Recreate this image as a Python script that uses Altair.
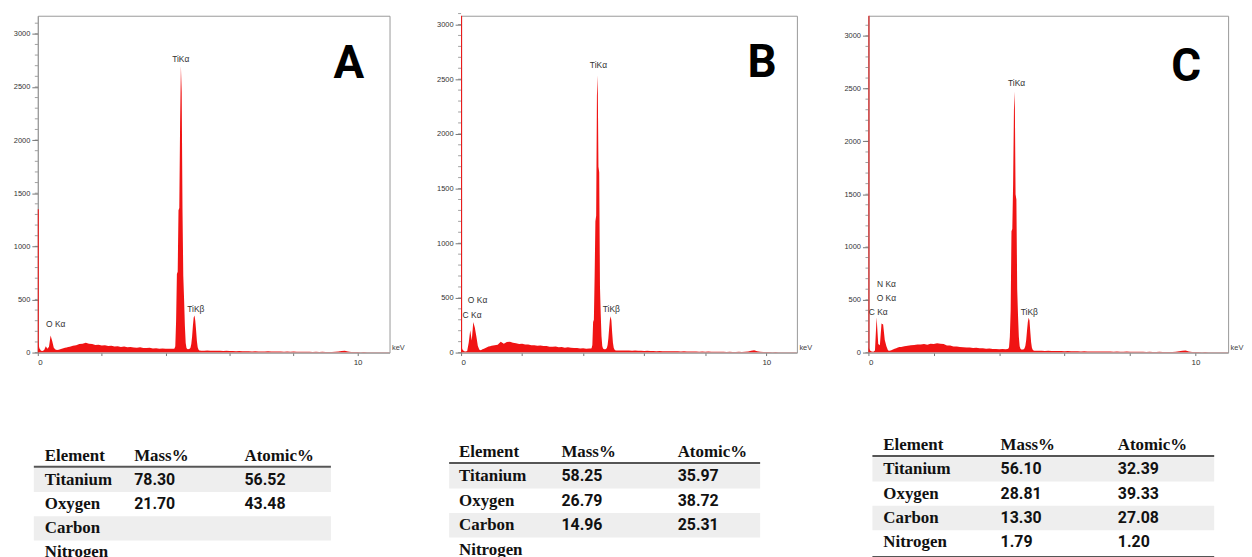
import altair as alt
import pandas as pd

# ---------------- data ----------------
# energy bins (keV): finer around the low-energy and Ti peaks
E1 = [round(0.05 * i, 3) for i in range(20)]            # 0.00 - 0.95
E2 = [round(1.0 + 0.1 * i, 3) for i in range(33)]       # 1.0 - 4.2
E3 = [round(4.25 + 0.025 * i, 3) for i in range(35)]    # 4.25 - 5.10
E4 = [round(5.2 + 0.1 * i, 3) for i in range(59)]       # 5.2 - 11.0
ENERGY = E1 + E2 + E3 + E4

# ---- sample A counts ----
A_LOW = [110, 40, 18, 15, 25, 60, 35, 55, 160, 110,
         45, 28, 24, 27, 32, 36, 40, 45, 48, 52]
A_MID = [55, 64, 70, 80, 84, 92, 82, 80, 72, 74,
         66, 68, 62, 63, 57, 59, 53, 56, 49, 53,
         48, 46, 50, 43, 42, 46, 39, 41, 37, 38,
         35, 37, 36]
A_TI = [36, 38, 60, 300, 740, 760, 1340, 1360, 2150, 2700,
        2450, 1350, 720, 500, 250, 90, 42, 34, 32, 33,
        36, 45, 80, 150, 250, 330, 350, 300, 210, 110,
        50, 28, 20, 19, 18]
A_HIGH = [18, 19, 17, 18, 16, 17, 15, 16, 14, 15,
          13, 14, 12, 13, 12, 11, 12, 10, 11, 10,
          12, 9, 10, 9, 10, 8, 9, 8, 9, 7,
          8, 7, 8, 7, 6, 7, 6, 7, 6, 5,
          6, 7, 9, 14, 16, 10, 6, 5, 5, 4,
          5, 4, 4, 3, 4, 3, 3, 3, 3]

# ---- sample B counts ----
B_LOW = [60, 25, 12, 10, 15, 90, 205, 110, 280, 230,
         150, 60, 25, 22, 30, 36, 42, 48, 55, 58]
B_MID = [62, 68, 72, 100, 80, 96, 98, 90, 86, 78,
         80, 74, 73, 68, 67, 62, 64, 60, 59, 54,
         53, 55, 49, 50, 45, 48, 43, 42, 41, 38,
         39, 36, 38]
B_TI = [38, 40, 70, 280, 300, 700, 1200, 1250, 2350, 2535,
        1700, 1650, 600, 350, 150, 60, 38, 32, 30, 31,
        34, 42, 70, 130, 220, 300, 332, 290, 180, 90,
        45, 28, 22, 20, 19]
B_HIGH = [19, 20, 18, 19, 17, 18, 16, 17, 15, 16,
          15, 14, 13, 14, 12, 13, 12, 11, 12, 11,
          10, 11, 10, 9, 10, 9, 8, 9, 8, 9,
          8, 7, 8, 7, 7, 6, 7, 6, 6, 7,
          6, 7, 9, 16, 21, 12, 7, 6, 5, 5,
          4, 5, 4, 4, 3, 4, 3, 3, 3]

# ---- sample C counts ----
C_LOW = [50, 20, 10, 8, 20, 335, 80, 70, 275, 265,
         120, 60, 20, 18, 22, 28, 35, 42, 48, 52]
C_MID = [52, 60, 64, 70, 71, 77, 76, 82, 74, 83,
         82, 88, 84, 81, 68, 66, 57, 58, 52, 51,
         47, 49, 44, 45, 41, 42, 37, 38, 33, 34,
         31, 34, 32]
C_TI = [33, 35, 50, 150, 400, 1150, 1170, 1600, 2300, 2473,
        1500, 1450, 600, 350, 150, 60, 36, 30, 28, 29,
        32, 40, 65, 120, 210, 290, 329, 305, 200, 100,
        45, 26, 20, 18, 17]
C_HIGH = [17, 18, 16, 17, 15, 16, 14, 15, 13, 14,
          13, 12, 13, 11, 12, 11, 10, 11, 10, 9,
          10, 9, 10, 8, 9, 8, 8, 9, 7, 8,
          7, 8, 7, 6, 7, 6, 6, 7, 6, 5,
          6, 6, 8, 12, 18, 20, 10, 6, 5, 5,
          4, 5, 4, 4, 3, 4, 3, 3, 3]

COUNTS = {
    "A": A_LOW + A_MID + A_TI + A_HIGH,
    "B": B_LOW + B_MID + B_TI + B_HIGH,
    "C": C_LOW + C_MID + C_TI + C_HIGH,
}
# zero-energy (noise) peak height
ZERO_PEAK = {"A": 1350, "B": 3400, "C": 3400}

# peak annotations: text, energy (keV), counts
PEAK_TEXT = {
    "A": ["TiKα", "TiKβ", "O Kα"],
    "B": ["TiKα", "TiKβ", "O Kα", "C Kα"],
    "C": ["TiKα", "TiKβ", "N Kα", "O Kα", "C Kα"],
}
PEAK_E = {
    "A": [4.47, 4.94, 0.56],
    "B": [4.50, 4.92, 0.54, 0.36],
    "C": [4.53, 4.92, 0.55, 0.55, 0.30],
}
PEAK_C = {
    "A": [2730, 380, 245],
    "B": [2600, 375, 450, 320],
    "C": [2520, 355, 620, 490, 360],
}
# panel letter position (energy, counts)
LETTER_E = {"A": 9.73, "B": 9.86, "C": 9.72}
LETTER_C = {"A": 2711, "B": 2650, "C": 2700}

Y_TICKS = [0, 500, 1000, 1500, 2000, 2500, 3000]
MINOR_TICKS = list(range(0, 3200, 100))
X_TICKS = list(range(0, 12))
Y_MAX = {"A": 3170, "B": 3080, "C": 3190}

# tables
HEADERS = ["Element", "Mass%", "Atomic%"]
ELEMENTS = ["Titanium", "Oxygen", "Carbon", "Nitrogen"]
MASS = {
    "A": [78.30, 21.70, None, None],
    "B": [58.25, 26.79, 14.96, None],
    "C": [56.10, 28.81, 13.30, 1.79],
}
ATOMIC = {
    "A": [56.52, 43.48, None, None],
    "B": [35.97, 38.72, 25.31, None],
    "C": [32.39, 39.33, 27.08, 1.20],
}

# ---------------- layout ----------------
WIDTH = {"A": 354, "B": 338, "C": 362}
SPEC_H = 339
TABLE_TOP = 369
TABLE_H = 188
TABLE_LAYOUT = {
    "A": {"header_y": 453, "step": 24.3, "cols": [7, 97, 208], "x0": -4, "x1": 295, "lines": [0.45]},
    "B": {"header_y": 449, "step": 24.6, "cols": [-2, 101, 218], "x0": -12, "x1": 301, "lines": [0.45]},
    "C": {"header_y": 442, "step": 24.5, "cols": [15, 133, 251], "x0": 4, "x1": 348, "lines": [0.45, 4.6]},
}
BAND_ROWS = [1, 3]
RED = "#f01414"


def spectrum(key):
    w = WIDTH[key]
    xs = alt.Scale(domain=[0, 11], nice=False, zero=False)
    ys = alt.Scale(domain=[0, Y_MAX[key]], nice=False)
    xaxis = alt.Axis(values=X_TICKS, labelExpr="datum.value % 5 === 0 ? datum.label : ''",
                     tickSize=3, labelPadding=3, labelFontSize=8, labelColor="#333",
                     domainColor="#999", tickColor="#777", grid=False,
                     title="keV", titleX=w + 2, titleY=-5, titleAlign="left",
                     titleBaseline="middle", titleFontSize=7.5, titleFontWeight="normal",
                     titleColor="#444", titleFont="Liberation Sans")
    yaxis = alt.Axis(values=Y_TICKS, format="d", tickSize=6, labelPadding=2, labelFontSize=7.5,
                     labelColor="#333", domainColor="#999", tickColor="#777",
                     grid=False, title="")
    df = pd.DataFrame({"energy": ENERGY, "counts": COUNTS[key]})
    area = alt.Chart(df).mark_area(color=RED, clip=True, interpolate="linear").encode(
        x=alt.X("energy:Q", scale=xs, axis=xaxis),
        y=alt.Y("counts:Q", scale=ys, axis=yaxis),
    )
    zero = alt.Chart(pd.DataFrame({"energy": [0.0], "counts": [0], "top": [ZERO_PEAK[key]]})).mark_rule(
        color=RED, strokeWidth=2, clip=True
    ).encode(x="energy:Q", y="counts:Q", y2="top:Q")
    minor = alt.Chart(pd.DataFrame({"energy": [0.0] * len(MINOR_TICKS), "counts": MINOR_TICKS})).mark_tick(
        orient="horizontal", size=3, thickness=1, color="#777", xOffset=-1.5
    ).encode(x="energy:Q", y="counts:Q")
    labels = alt.Chart(pd.DataFrame({"energy": PEAK_E[key], "counts": PEAK_C[key], "label": PEAK_TEXT[key]})).mark_text(
        font="Liberation Sans", fontSize=8.5, color="#333", align="center", baseline="alphabetic"
    ).encode(x="energy:Q", y="counts:Q", text="label:N")
    letter = alt.Chart(pd.DataFrame({"energy": [LETTER_E[key]], "counts": [LETTER_C[key]], "label": [key]})).mark_text(
        font="Roboto", fontSize=46, fontWeight="bold", color="#000", align="center", baseline="middle"
    ).encode(x="energy:Q", y="counts:Q", text="label:N")
    return alt.layer(area, zero, minor, labels, letter).properties(
        width=w, height=SPEC_H, view=alt.ViewBackground(stroke="#999", strokeWidth=1)
    )


def table(key):
    w = WIDTH[key]
    lay = TABLE_LAYOUT[key]
    d0 = (TABLE_TOP - lay["header_y"]) / lay["step"]
    d1 = (TABLE_TOP + TABLE_H - lay["header_y"]) / lay["step"]
    ys = alt.Scale(domain=[d0, d1], reverse=True, nice=False, zero=False)
    xs = alt.Scale(domain=[0, 1, 2], range=lay["cols"], nice=False, zero=False)

    serif_rows = [{"col": i, "row": 0, "text": h} for i, h in enumerate(HEADERS)]
    serif_rows += [{"col": 0, "row": i + 1, "text": el} for i, el in enumerate(ELEMENTS)]
    num_rows = []
    for i in range(len(ELEMENTS)):
        if MASS[key][i] is not None:
            num_rows.append({"col": 1, "row": i + 1, "text": f"{MASS[key][i]:.2f}"})
        if ATOMIC[key][i] is not None:
            num_rows.append({"col": 2, "row": i + 1, "text": f"{ATOMIC[key][i]:.2f}"})

    bands = alt.Chart(pd.DataFrame({"lo": [r - 0.5 for r in BAND_ROWS], "hi": [r + 0.5 for r in BAND_ROWS]})).mark_rect(
        color="#eeeeee"
    ).encode(x=alt.value(lay["x0"]), x2=alt.value(lay["x1"]),
             y=alt.Y("lo:Q", scale=ys, axis=None), y2="hi:Q")
    lines = alt.Chart(pd.DataFrame({"row": lay["lines"]})).mark_rule(color="#555", strokeWidth=2).encode(
        x=alt.value(lay["x0"]), x2=alt.value(lay["x1"]), y=alt.Y("row:Q", scale=ys, axis=None)
    )
    serif = alt.Chart(pd.DataFrame(serif_rows)).mark_text(
        font="Liberation Serif", fontWeight="bold", fontSize=17, color="#111", align="left", baseline="middle"
    ).encode(x=alt.X("col:Q", scale=xs, axis=None), y=alt.Y("row:Q", scale=ys, axis=None), text="text:N")
    nums = alt.Chart(pd.DataFrame(num_rows)).mark_text(
        font="Roboto", fontWeight="bold", fontSize=16, color="#111", align="left", baseline="middle"
    ).encode(x=alt.X("col:Q", scale=xs, axis=None), y=alt.Y("row:Q", scale=ys, axis=None), text="text:N")
    return alt.layer(bands, lines, serif, nums).properties(width=w, height=TABLE_H)


chart = alt.concat(
    spectrum("A"), spectrum("B"), spectrum("C"),
    table("A"), table("B"), table("C"),
    columns=3, spacing={"row": 20, "column": 72}, bounds="flush",
).properties(
    padding={"left": 4, "top": 2, "right": 0, "bottom": 0}
).configure_view(stroke="transparent").configure_axis(labelFont="Liberation Sans")

chart.save("out.html", embed_options={"renderer": "svg", "actions": False})
